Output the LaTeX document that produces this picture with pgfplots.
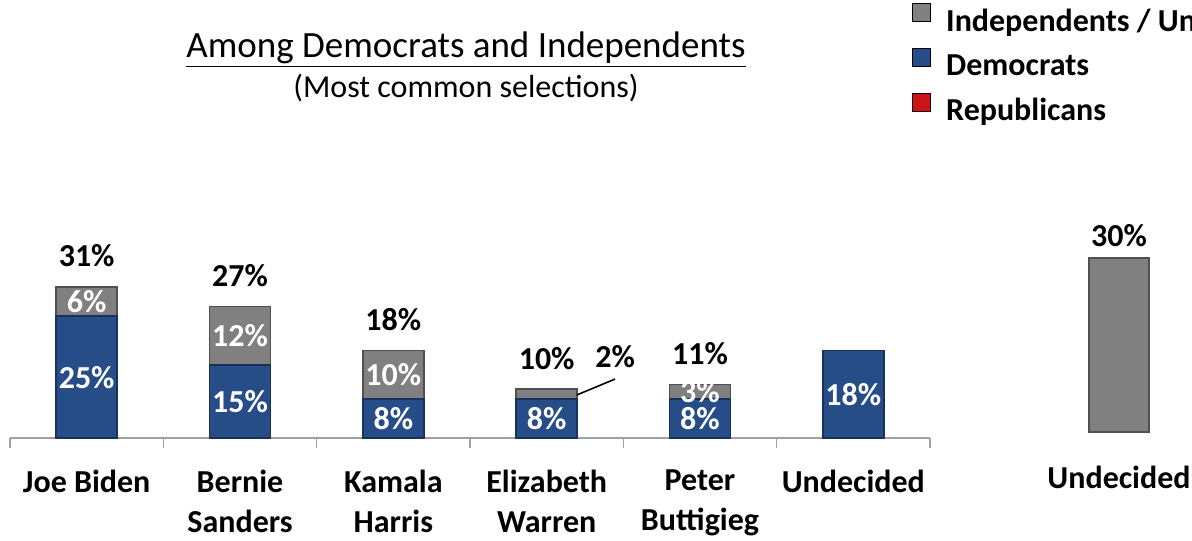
\documentclass[border=0pt]{standalone}
\usepackage{pgfplots}
\pgfplotsset{compat=1.18}
\usepackage{fontspec}
\setmainfont{Carlito}

\definecolor{dem}{RGB}{38,77,135}
\definecolor{demdark}{RGB}{24,50,92}
\definecolor{ind}{RGB}{128,128,128}
\definecolor{inddark}{RGB}{80,80,80}
\definecolor{rep}{RGB}{204,20,20}
\definecolor{axisgray}{RGB}{160,160,160}

\newcommand{\lbl}{\bfseries\fontsize{16}{20}\selectfont}

\begin{document}
\begin{tikzpicture}
\path[use as bounding box] (0,0) rectangle (596pt,270pt);

% titles
\node[font=\fontsize{18.5}{22}\selectfont] at (233pt,245pt) {\underline{Among Democrats and Independents}};
\node[font=\fontsize{16}{20}\selectfont] at (233pt,226pt) {(Most common selections)};

% left panel: stacked bars
\begin{axis}[
    at={(5pt,51pt)}, anchor=south west,
    scale only axis, width=460pt, height=97.4pt,
    xmin=-0.5, xmax=5.5, ymin=0, ymax=40,
    ybar stacked, bar width=30.5pt,
    axis y line=none,
    axis x line*=bottom,
    x axis line style={axisgray, line width=0.8pt},
    xtick={0,...,5},
    xticklabels={Joe Biden, Bernie\\Sanders, Kamala\\Harris, Elizabeth\\Warren, Peter\\Buttigieg, Undecided},
    xticklabel style={font=\lbl, align=center, anchor=north, yshift=-12.5pt},
    major tick length=0pt,
    extra x ticks={-0.5,0.5,...,5.5},
    extra x tick labels={},
    extra x tick style={tick align=outside, major tick length=5pt, tick style={axisgray, line width=0.8pt}},
    clip=false,
]
\addplot[fill=dem, draw=demdark, line width=0.8pt]
coordinates {(0,25) (1,15) (2,8) (3,8) (4,8) (5,18)};
\addplot[fill=ind, draw=inddark, line width=0.8pt]
coordinates {(0,6) (1,12) (2,10) (3,2) (4,3)};
\end{axis}

% left panel: value labels
\begin{axis}[
    at={(5pt,51pt)}, anchor=south west,
    scale only axis, width=460pt, height=97.4pt,
    xmin=-0.5, xmax=5.5, ymin=0, ymax=40,
    hide axis, clip=false,
]
% segment values
\addplot[draw=none, nodes near coords, point meta=explicit symbolic,
    every node near coord/.append style={font=\lbl, text=white, anchor=center}]
coordinates {(0,12.5)[25\%] (0,28)[6\%] (1,7.5)[15\%] (1,21)[12\%]
    (2,4)[8\%] (2,13)[10\%] (3,4)[8\%] (4,4)[8\%] (4,9.5)[3\%] (5,9)[18\%]};
% totals
\addplot[draw=none, nodes near coords, point meta=explicit symbolic,
    every node near coord/.append style={font=\lbl, text=black, anchor=center, yshift=15.5pt}]
coordinates {(0,31)[31\%] (1,27)[27\%] (2,18)[18\%] (3,10)[10\%] (4,11)[11\%]};
\addplot[draw=none, nodes near coords, point meta=explicit symbolic,
    every node near coord/.append style={font=\lbl, text=black, anchor=center}]
coordinates {(3.446,16.8)[2\%]};
\draw[black, line width=0.8pt] (axis cs:3.196,8.83) -- (axis cs:3.446,12.1);
\end{axis}

% right panel: undecided total
\begin{axis}[
    at={(529.5pt,54pt)}, anchor=south west,
    scale only axis, width=60pt, height=87pt,
    xmin=-0.5, xmax=0.5, ymin=0, ymax=30,
    axis line style={draw=none},
    ytick=\empty, xtick={0}, xticklabels={Undecided},
    major tick length=0pt,
    xticklabel style={font=\lbl, anchor=north, yshift=-13.5pt},
    clip=false,
    legend image code/.code={\fill[#1] (0pt,0.7pt) rectangle (9pt,9.7pt); \path (16.5pt,0pt);},
    legend cell align=left,
    legend style={at={(axis description cs:-1.225,2.466)}, anchor=north west,
        draw=none, fill=none, inner sep=0pt, font=\lbl, row sep=5.5pt,
        nodes={inner sep=0pt, text height=11pt, text depth=3pt}},
]
\addplot[ybar, bar width=30pt, fill=ind, draw=inddark, line width=0.8pt,
    nodes near coords, point meta=explicit symbolic,
    every node near coord/.append style={font=\lbl, text=black, anchor=center, yshift=11pt},
    forget plot]
coordinates {(0,30)[30\%]};
\addlegendimage{fill=ind}
\addlegendentry{Independents / Unaffiliated}
\addlegendimage{fill=dem}
\addlegendentry{Democrats}
\addlegendimage{fill=rep}
\addlegendentry{Republicans}
\end{axis}
\end{tikzpicture}
\end{document}
